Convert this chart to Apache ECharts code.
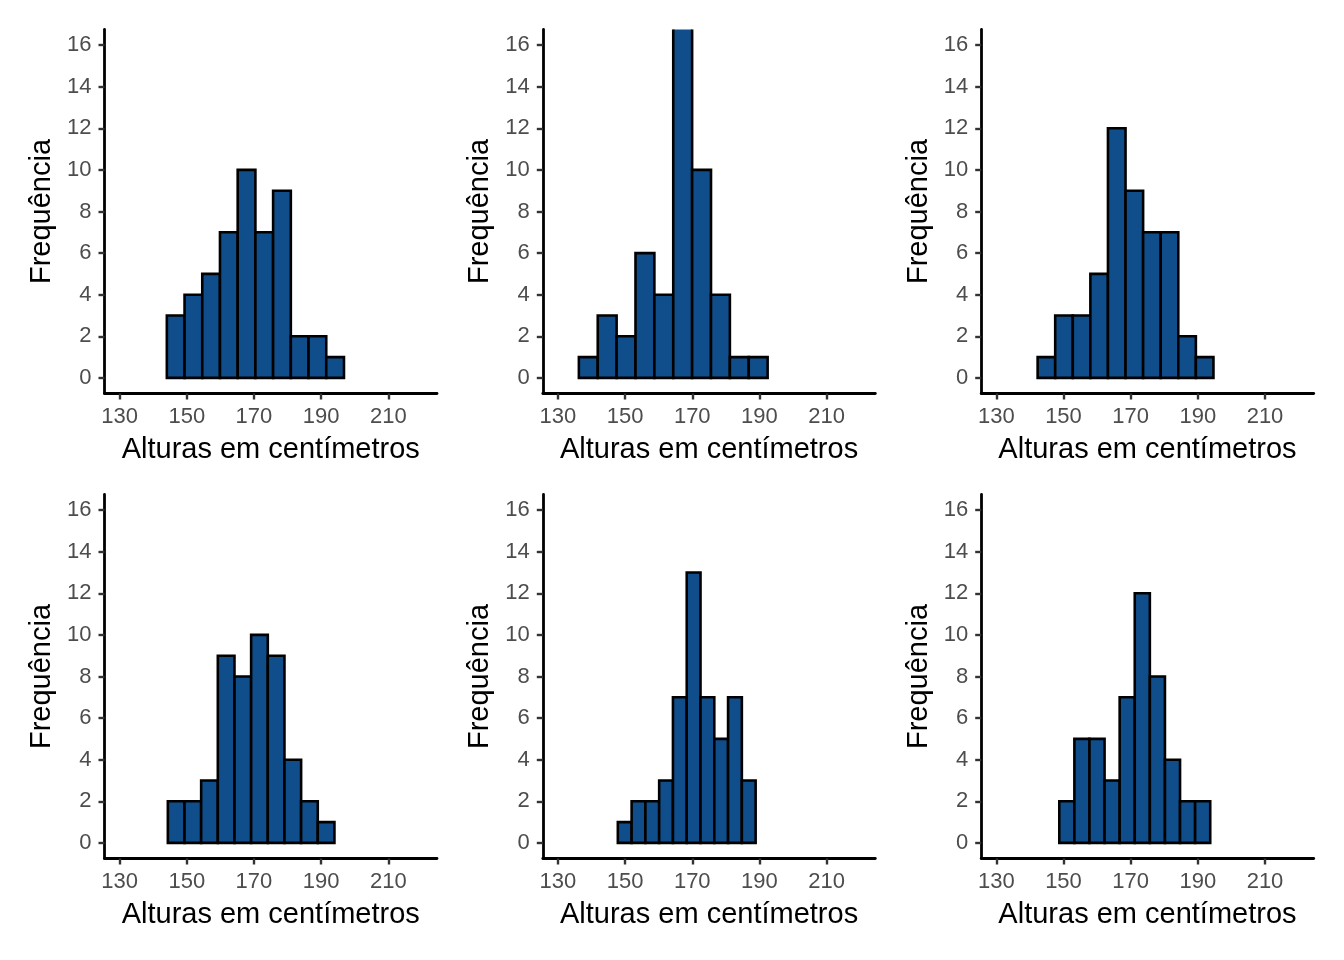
<!DOCTYPE html>
<html>
<head>
<meta charset="utf-8">
<script src="https://cdn.jsdelivr.net/npm/echarts@6/dist/echarts.min.js"></script>
<style>
html,body{margin:0;padding:0;background:#fff;}
#chart{width:1344px;height:960px;}
</style>
</head>
<body>
<div id="chart"></div>
<script>
// ---- data ----
const xTickValues = [130, 150, 170, 190, 210];
const yTickValues = [0, 2, 4, 6, 8, 10, 12, 14, 16];
const xTitle = 'Alturas em centímetros';
const yTitle = 'Frequência';

// first bin left edge (cm) and bin width (cm) for each panel
const binStarts = [144.06, 136.24, 142.30, 144.36, 147.84, 148.75];
const binWidths = [5.274, 5.62, 5.235, 4.96, 4.103, 4.494];

// counts per bin
const counts1 = [3, 4, 5, 7, 10, 7, 9, 2, 2, 1];
const counts2 = [1, 3, 2, 6, 4, 18, 10, 4, 1, 1];
const counts3 = [1, 3, 3, 5, 12, 9, 7, 7, 2, 1];
const counts4 = [2, 2, 3, 9, 8, 10, 9, 4, 2, 1];
const counts5 = [1, 2, 2, 3, 7, 13, 7, 5, 7, 3];
const counts6 = [2, 5, 5, 3, 7, 12, 8, 4, 2, 2];
const allCounts = [counts1, counts2, counts3, counts4, counts5, counts6];

// ---- layout ----
const colLefts = [104.5, 542.8, 981.2];
const rowTops = [29.5, 494.5];
const gridW = 332.5, gridH = 364;
const xMin = 125.5, xMax = 224.5, yMin = -0.75, yMax = 16.75;

const FONT = '"Liberation Sans", Arial, Helvetica, sans-serif';
const grids = [], xAxes = [], yAxes = [], series = [];

allCounts.forEach((counts, i) => {
  const r = Math.floor(i / 3), c = i % 3;
  grids.push({left: colLefts[c], top: rowTops[r], width: gridW, height: gridH, containLabel: false});
  xAxes.push({
    type: 'value', gridIndex: i, min: xMin, max: xMax,
    name: xTitle, nameLocation: 'middle', nameGap: 42,
    nameTextStyle: {fontFamily: FONT, fontSize: 29, color: '#000'},
    axisLine: {show: true, onZero: false, lineStyle: {color: '#000', width: 2.8}},
    axisTick: {show: true, length: 6, lineStyle: {color: '#333', width: 2.4}, customValues: xTickValues},
    axisLabel: {show: true, margin: 12, fontFamily: FONT, fontSize: 22, color: '#4d4d4d', customValues: xTickValues},
    splitLine: {show: false}
  });
  yAxes.push({
    type: 'value', gridIndex: i, min: yMin, max: yMax,
    name: yTitle, nameLocation: 'middle', nameGap: 48, nameRotate: 90,
    nameTextStyle: {fontFamily: FONT, fontSize: 29, color: '#000'},
    axisLine: {show: true, onZero: false, lineStyle: {color: '#000', width: 2.8}},
    axisTick: {show: true, length: 6, lineStyle: {color: '#333', width: 2.4}, customValues: yTickValues},
    axisLabel: {show: true, margin: 13, fontFamily: FONT, fontSize: 22, color: '#4d4d4d', customValues: yTickValues},
    splitLine: {show: false}
  });
  const data = counts.map((v, k) => [binStarts[i] + k * binWidths[i], binStarts[i] + (k + 1) * binWidths[i], v]);
  series.push({
    type: 'custom', xAxisIndex: i, yAxisIndex: i, clip: true,
    data: data,
    renderItem: function (params, api) {
      const p0 = api.coord([api.value(0), 0]);
      const p1 = api.coord([api.value(1), api.value(2)]);
      return {
        type: 'rect',
        shape: {x: p0[0], y: p1[1], width: p1[0] - p0[0], height: p0[1] - p1[1]},
        style: {fill: '#104E8B', stroke: '#000', lineWidth: 2.6}
      };
    }
  });
});

const chart = echarts.init(document.getElementById('chart'), null, {renderer: 'canvas'});
chart.setOption({
  backgroundColor: '#fff',
  animation: false,
  grid: grids,
  xAxis: xAxes,
  yAxis: yAxes,
  series: series
});
</script>
</body>
</html>
